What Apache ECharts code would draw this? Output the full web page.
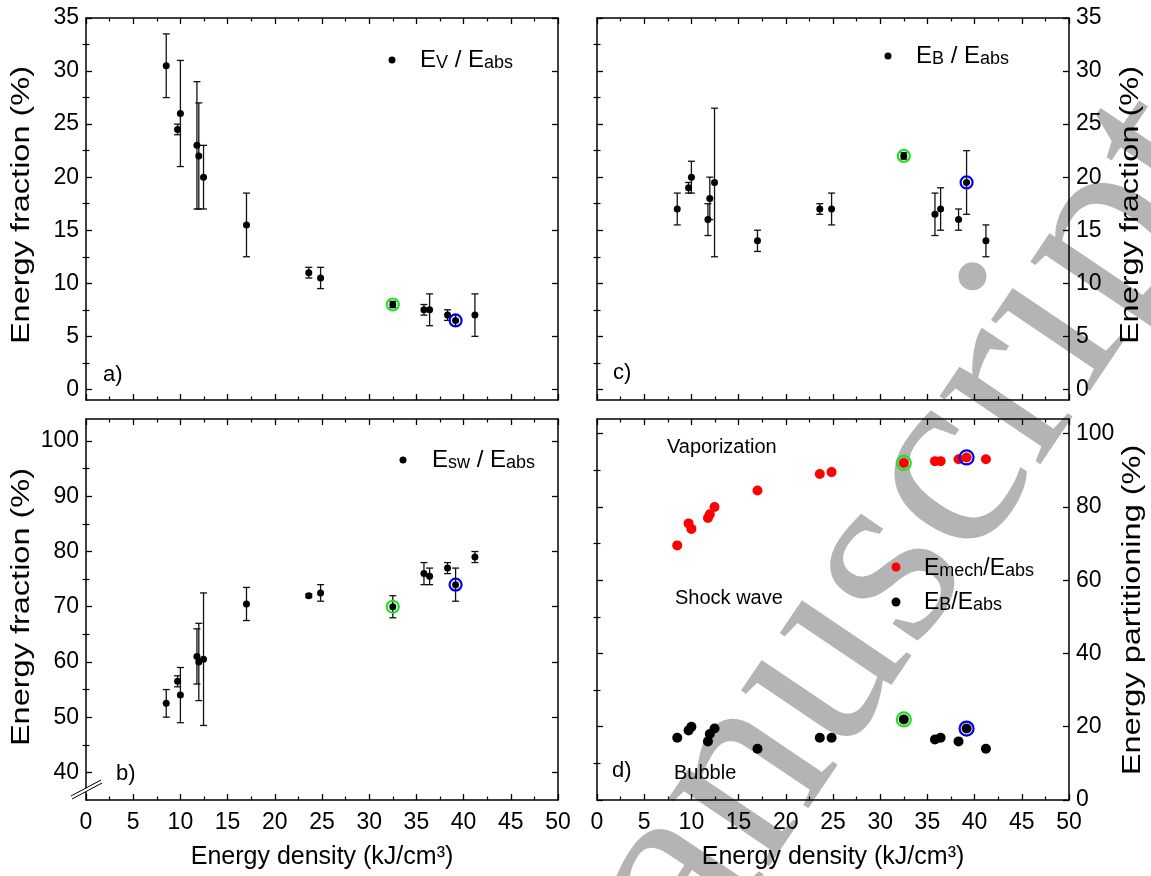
<!DOCTYPE html>
<html>
<head>
<meta charset="utf-8">
<title>Energy partitioning vs energy density</title>
<script src="https://cdn.jsdelivr.net/npm/echarts@6.0.0/dist/echarts.min.js"></script>
<style>
  html, body { margin: 0; padding: 0; background: #fff; }
  #chart { width: 1151px; height: 876px; }
</style>
</head>
<body>
<div id="chart"></div>
<script>
// ---- measured data -------------------------------------------------------
// absorbed energy density of each shot (kJ/cm^3)
const density = [8.5, 9.7, 10.0, 11.75, 11.95, 12.45, 17.0, 23.6, 24.85, 32.5, 35.8, 36.4, 38.3, 39.15, 41.2];

// vaporization fraction E_V / E_abs (%) and its uncertainty
const fracV = [30.5, 24.5, 26.0, 23.0, 22.0, 20.0, 15.5, 11.0, 10.5, 8.0, 7.5, 7.5, 7.0, 6.5, 7.0];
const errV  = [3.0, 0.5, 5.0, 6.0, 5.0, 3.0, 3.0, 0.5, 1.0, 0.3, 0.5, 1.5, 0.5, 0.5, 2.0];

// shock-wave fraction E_sw / E_abs (%) and its uncertainty
const fracSW = [52.5, 56.5, 54.0, 61.0, 60.0, 60.5, 70.5, 72.0, 72.5, 70.0, 76.0, 75.5, 77.0, 74.0, 79.0];
const errSW  = [2.5, 1.0, 5.0, 5.0, 7.0, 12.0, 3.0, 0.3, 1.5, 2.0, 2.0, 1.5, 1.0, 3.0, 1.0];

// bubble fraction E_B / E_abs (%) and its uncertainty
const fracB = [17.0, 19.0, 20.0, 16.0, 18.0, 19.5, 14.0, 17.0, 17.0, 22.0, 16.5, 17.0, 16.0, 19.5, 14.0];
const errB  = [1.5, 0.5, 1.5, 1.5, 2.0, 7.0, 1.0, 0.5, 1.5, 0.3, 2.0, 2.0, 1.0, 3.0, 1.5];

// mechanical fraction E_mech / E_abs (%)
const fracMech = [69.5, 75.5, 74.0, 77.0, 78.0, 80.0, 84.5, 89.0, 89.5, 92.0, 92.5, 92.5, 93.0, 93.5, 93.0];

// shots singled out with a ring
const greenShot = 9;
const blueShot = 13;

// ---- tick values ---------------------------------------------------------
const densityTicks   = [0, 5, 10, 15, 20, 25, 30, 35, 40, 45, 50];
const fracTicks      = [0, 5, 10, 15, 20, 25, 30, 35];
const fracMinorTicks = [2.5, 7.5, 12.5, 17.5, 22.5, 27.5, 32.5];
const swTicks        = [40, 50, 60, 70, 80, 90, 100];
const swMinorTicks   = [45, 55, 65, 75, 85, 95];
const partTicks      = [0, 20, 40, 60, 80, 100];
const partMinorTicks = [10, 30, 50, 70, 90];

const FONT = '"Liberation Sans", Arial, Helvetica, sans-serif';
const SERIF = '"Liberation Serif", "Times New Roman", serif';
const BLACK = '#000';
const TICK_FONT = 23;

// ---- layout of the four panels -------------------------------------------
const grids = [
  { left: 86,  top: 18,  width: 472, height: 382 },  // a) vaporization
  { left: 86,  top: 419, width: 472, height: 381 },  // b) shock wave
  { left: 597, top: 18,  width: 472, height: 382 },  // c) bubble
  { left: 597, top: 419, width: 472, height: 381 }   // d) partitioning
];

function xAxesFor(gi, showLabels) {
  const base = {
    type: 'value', gridIndex: gi,
    min: densityTicks[0], max: densityTicks[densityTicks.length - 1], interval: 5,
    axisLine: { show: true, onZero: false, lineStyle: { color: BLACK, width: 1.5 } },
    axisTick: { show: true, inside: true, length: 6, lineStyle: { color: BLACK, width: 1.3 } },
    minorTick: { show: true, splitNumber: 2, length: 3.5, lineStyle: { color: BLACK, width: 1.2 } },
    splitLine: { show: false }
  };
  return [
    Object.assign({}, base, {
      position: 'bottom',
      axisLabel: { show: showLabels, fontSize: TICK_FONT, fontFamily: FONT, color: BLACK, margin: 11 },
      name: showLabels ? 'Energy density (kJ/cm³)' : '',
      nameLocation: 'middle', nameGap: 45,
      nameTextStyle: { fontSize: 25, fontFamily: FONT, color: BLACK }
    }),
    Object.assign({}, base, { position: 'top', axisLabel: { show: false } })
  ];
}

function yAxesFor(gi, min, max, major, minor, labelSide) {
  const out = [];
  ['left', 'right'].forEach(function (side) {
    out.push({
      type: 'value', gridIndex: gi, position: side, min: min, max: max,
      axisLine: { show: true, onZero: false, lineStyle: { color: BLACK, width: 1.5 } },
      axisTick: { show: true, inside: true, length: 6, customValues: major, lineStyle: { color: BLACK, width: 1.3 } },
      axisLabel: { show: side === labelSide, customValues: major, fontSize: TICK_FONT, fontFamily: FONT, color: BLACK, margin: 7 },
      splitLine: { show: false }
    });
    out.push({
      type: 'value', gridIndex: gi, position: side, min: min, max: max,
      axisLine: { show: false },
      axisTick: { show: true, inside: true, length: 3.5, customValues: minor, lineStyle: { color: BLACK, width: 1.2 } },
      axisLabel: { show: false },
      splitLine: { show: false }
    });
  });
  return out;
}

const xAxis = [].concat(
  xAxesFor(0, false), xAxesFor(1, true), xAxesFor(2, false), xAxesFor(3, true)
);
const yAxis = [].concat(
  yAxesFor(0, -1, 35, fracTicks, fracMinorTicks, 'left'),
  yAxesFor(1, 35, 104, swTicks, swMinorTicks, 'left'),
  yAxesFor(2, -1, 35, fracTicks, fracMinorTicks, 'right'),
  yAxesFor(3, 0, 104, partTicks, partMinorTicks, 'right')
);

// ---- series builders -----------------------------------------------------
function pairs(values) {
  return density.map(function (x, i) { return [x, values[i]]; });
}

function errorBars(gi, values, errors) {
  return {
    type: 'custom', xAxisIndex: gi * 2, yAxisIndex: gi * 4, z: 2,
    data: density.map(function (x, i) { return [x, values[i], errors[i]]; }),
    encode: { x: 0, y: 1 },
    renderItem: function (params, api) {
      const x = api.value(0), y = api.value(1), e = api.value(2);
      const hi = api.coord([x, y + e]);
      const lo = api.coord([x, y - e]);
      const hw = 3.5;
      const st = { stroke: '#111', lineWidth: 1.3 };
      return {
        type: 'group',
        children: [
          { type: 'line', shape: { x1: hi[0], y1: hi[1], x2: lo[0], y2: lo[1] }, style: st },
          { type: 'line', shape: { x1: hi[0] - hw, y1: hi[1], x2: hi[0] + hw, y2: hi[1] }, style: st },
          { type: 'line', shape: { x1: lo[0] - hw, y1: lo[1], x2: lo[0] + hw, y2: lo[1] }, style: st }
        ]
      };
    }
  };
}

function dots(gi, values, color, size) {
  return {
    type: 'scatter', xAxisIndex: gi * 2, yAxisIndex: gi * 4, z: 3,
    symbol: 'circle', symbolSize: size,
    itemStyle: { color: color, opacity: 1 },
    data: pairs(values)
  };
}

function ring(gi, values, idx, color, size) {
  return {
    type: 'scatter', xAxisIndex: gi * 2, yAxisIndex: gi * 4, z: 4,
    symbol: 'circle', symbolSize: size,
    itemStyle: { color: 'rgba(0,0,0,0)', borderColor: color, borderWidth: 2.2, opacity: 1 },
    data: [[density[idx], values[idx]]]
  };
}

const GREEN = '#22e022';
const BLUE = '#0000ee';

const series = [
  // a) vaporization
  errorBars(0, fracV, errV),
  dots(0, fracV, BLACK, 7),
  ring(0, fracV, greenShot, GREEN, 12),
  ring(0, fracV, blueShot, BLUE, 12),
  // b) shock wave
  errorBars(1, fracSW, errSW),
  dots(1, fracSW, BLACK, 7),
  ring(1, fracSW, greenShot, GREEN, 12),
  ring(1, fracSW, blueShot, BLUE, 12),
  // c) bubble
  errorBars(2, fracB, errB),
  dots(2, fracB, BLACK, 7),
  ring(2, fracB, greenShot, GREEN, 12),
  ring(2, fracB, blueShot, BLUE, 12),
  // d) partitioning
  dots(3, fracMech, '#ff0000', 10),
  dots(3, fracB, BLACK, 10),
  ring(3, fracMech, greenShot, GREEN, 14),
  ring(3, fracMech, blueShot, BLUE, 14),
  ring(3, fracB, greenShot, GREEN, 14),
  ring(3, fracB, blueShot, BLUE, 14)
];

// ---- legends, titles and annotations --------------------------------------
const richStyles = {
  m:  { fontSize: 24, fontFamily: FONT, color: BLACK, lineHeight: 27, verticalAlign: 'bottom' },
  s:  { fontSize: 18, fontFamily: FONT, color: BLACK, lineHeight: 10, verticalAlign: 'bottom' },
  md: { fontSize: 23, fontFamily: FONT, color: BLACK, lineHeight: 26, verticalAlign: 'bottom' },
  sd: { fontSize: 18, fontFamily: FONT, color: BLACK, lineHeight: 10, verticalAlign: 'bottom' }
};

function legendEntry(cx, cy, r, color, tx, baseline, rich) {
  return [
    { type: 'circle', shape: { cx: cx, cy: cy, r: r }, style: { fill: color }, z: 10 },
    {
      type: 'text', x: tx, y: baseline - 8, z: 10,
      style: { text: rich, rich: richStyles, textAlign: 'left', textVerticalAlign: 'middle', align: 'left', verticalAlign: 'middle' }
    }
  ];
}

function plainText(txt, x, baseline, size) {
  return {
    type: 'text', x: x, y: baseline - Math.round(size * 0.36), z: 10,
    style: { text: txt, fontSize: size, fontFamily: FONT, fill: BLACK, textAlign: 'left', textVerticalAlign: 'middle', align: 'left', verticalAlign: 'middle' }
  };
}

// vertical axis titles, reading bottom to top, slightly elongated lettering
function yTitle(txt, cx, cy) {
  return {
    type: 'text', x: cx, y: cy, rotation: Math.PI / 2, scaleX: 1.25, scaleY: 1, z: 10,
    style: { text: txt, fontSize: 26, fontFamily: FONT, fill: BLACK, textAlign: 'center', textVerticalAlign: 'middle', align: 'center', verticalAlign: 'middle' }
  };
}

const graphic = [].concat(
  [
    // "Accepted Manuscript" stamp running diagonally behind the plots
    {
      type: 'text', x: 848, y: 625, rotation: 56 * Math.PI / 180, z: -10,
      style: { text: 'Manuscript', fontSize: 265, fontFamily: SERIF, fill: '#b4b4b4', textAlign: 'center', textVerticalAlign: 'middle', align: 'center', verticalAlign: 'middle' }
    }
  ],
  legendEntry(392, 60, 3.5, BLACK, 420, 67, '{m|E}{s|V}{m| / E}{s|abs}'),
  legendEntry(888, 56, 3.5, BLACK, 916, 63, '{m|E}{s|B}{m| / E}{s|abs}'),
  legendEntry(403, 460, 3.5, BLACK, 432, 467, '{m|E}{s|sw}{m| / E}{s|abs}'),
  legendEntry(896, 567, 4.5, '#ff0000', 924, 575, '{md|E}{sd|mech}{md|/E}{sd|abs}'),
  legendEntry(896, 602, 4.5, BLACK, 924, 609, '{md|E}{sd|B}{md|/E}{sd|abs}'),
  [
    yTitle('Energy fraction (%)', 22, 205),
    yTitle('Energy fraction (%)', 22, 607),
    yTitle('Energy fraction (%)', 1131, 205),
    yTitle('Energy partitioning (%)', 1133, 610),
    plainText('a)', 103, 383, 22),
    plainText('c)', 613, 381, 22),
    plainText('b)', 116, 782, 22),
    plainText('d)', 612, 779, 22),
    plainText('Vaporization', 667, 454, 20),
    plainText('Shock wave', 675, 605, 20),
    plainText('Bubble', 674, 780, 20),
    // broken-axis mark on the shock-wave panel
    {
      type: 'polygon', z: 11,
      shape: { points: [[74, 795], [100, 781], [100, 784], [74, 798]] },
      style: { fill: '#fff' }
    },
    { type: 'line', z: 12, shape: { x1: 71, y1: 796, x2: 101, y2: 780 }, style: { stroke: BLACK, lineWidth: 1 } },
    { type: 'line', z: 12, shape: { x1: 72, y1: 799, x2: 102, y2: 783 }, style: { stroke: BLACK, lineWidth: 1 } }
  ]
);

const chart = echarts.init(document.getElementById('chart'), null, { renderer: 'canvas' });
chart.setOption({
  backgroundColor: '#fff',
  animation: false,
  grid: grids,
  xAxis: xAxis,
  yAxis: yAxis,
  series: series,
  graphic: graphic
});
</script>
</body>
</html>
